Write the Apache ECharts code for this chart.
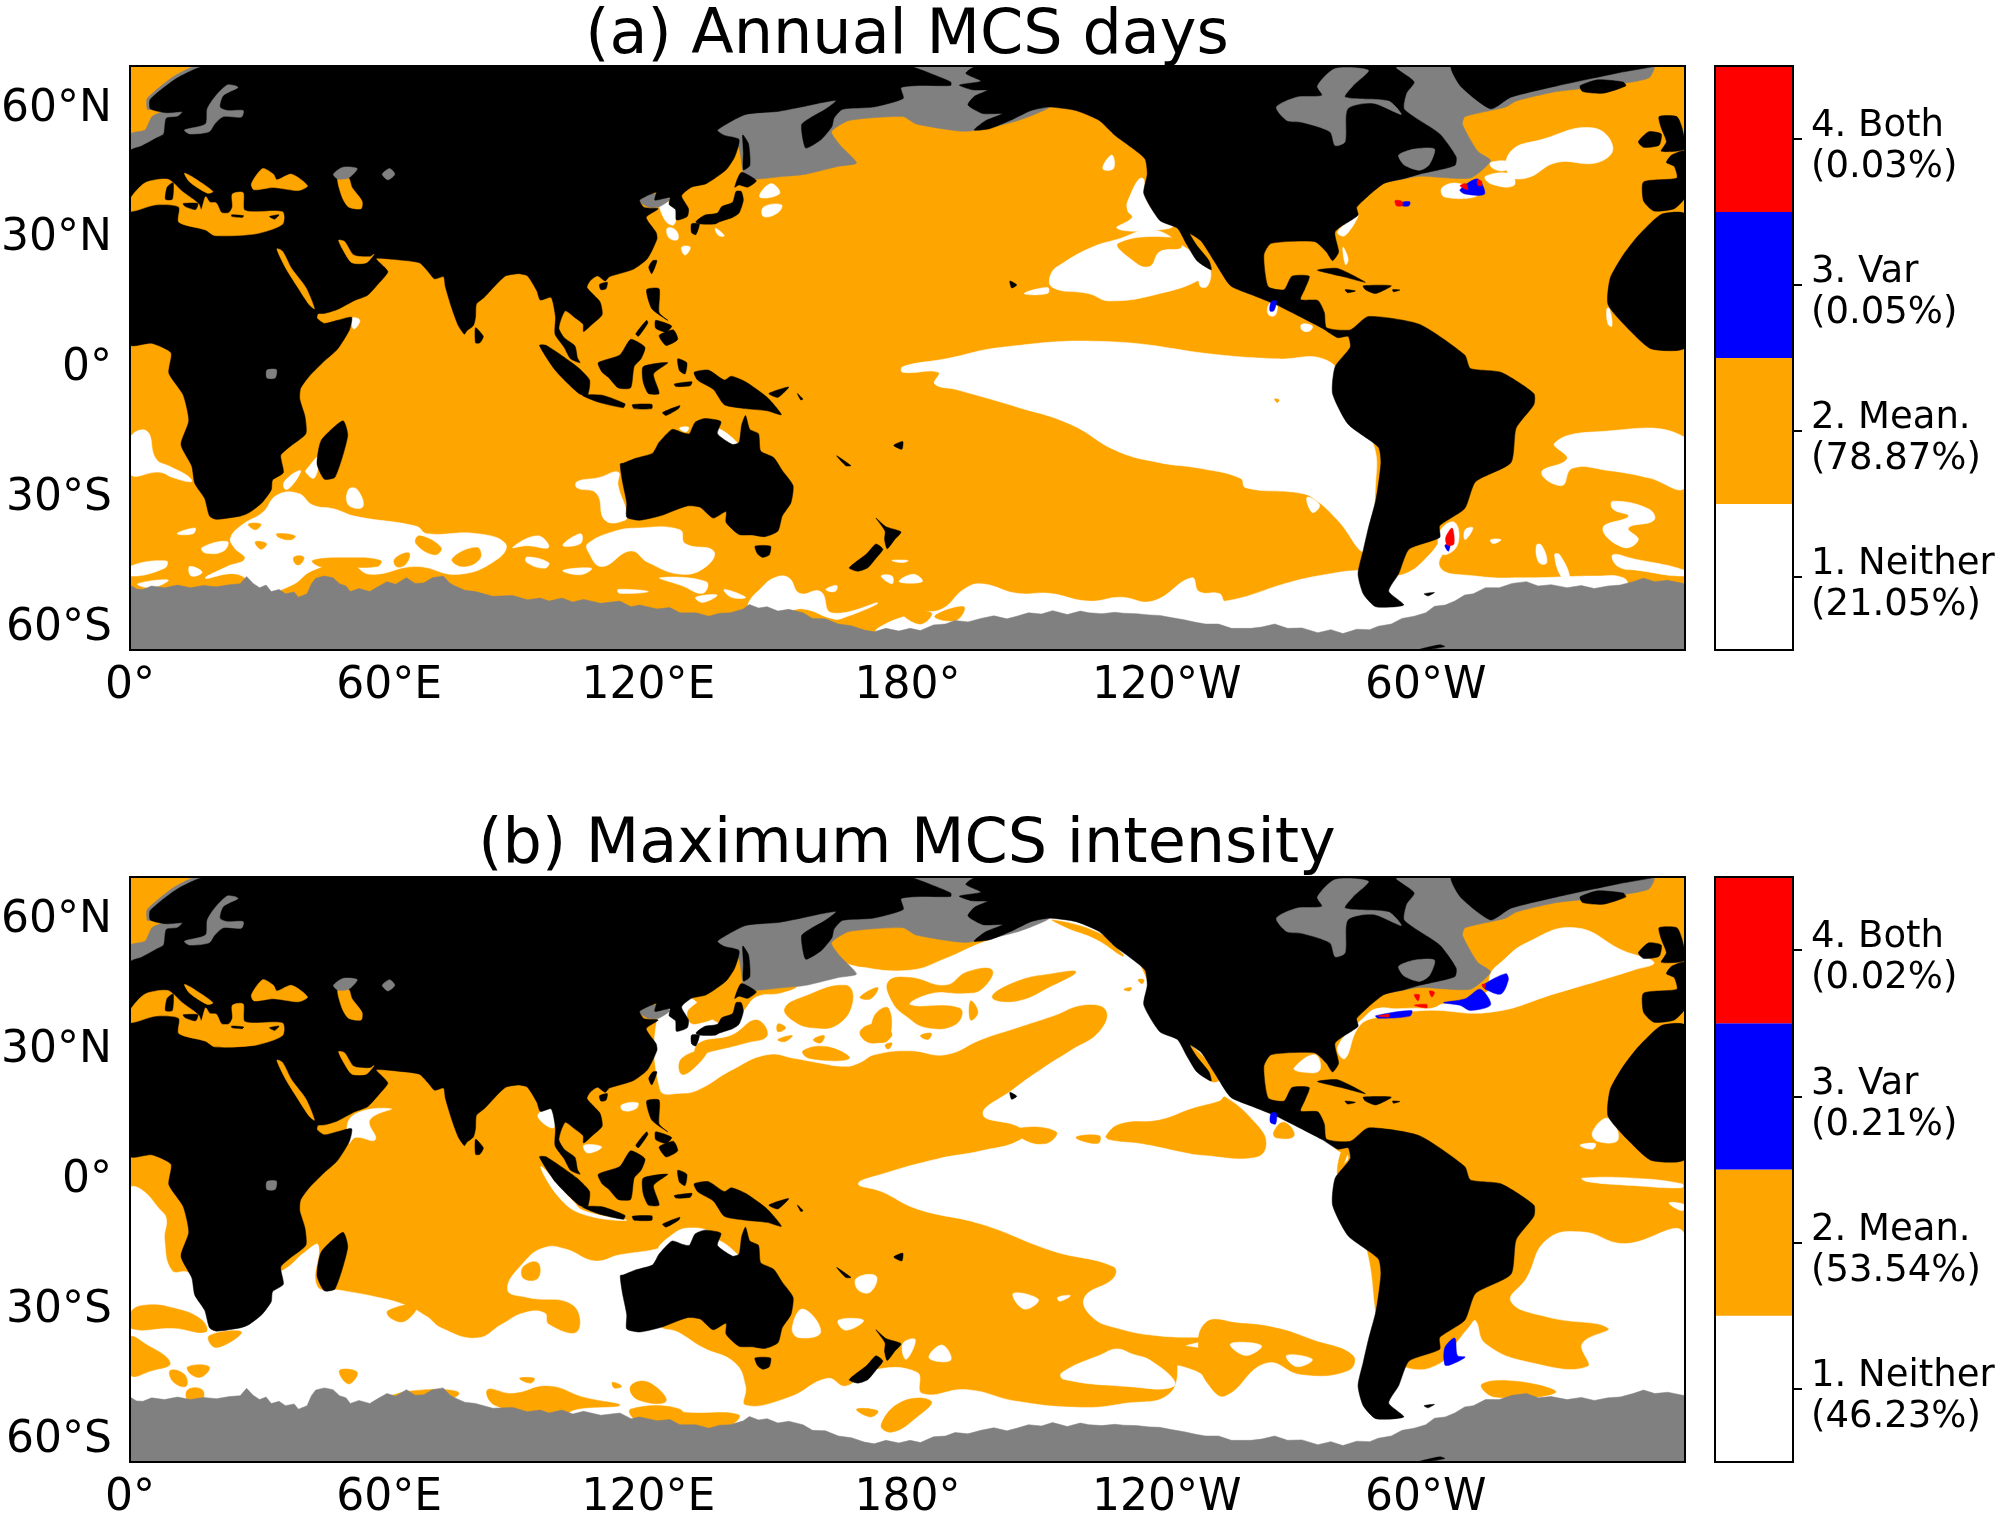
<!DOCTYPE html>
<html>
<head>
<meta charset="utf-8">
<title>MCS maps</title>
<script src="https://cdn.jsdelivr.net/npm/echarts@6/dist/echarts.min.js"></script>
<style>
html,body{margin:0;padding:0;background:#fff}
#main{width:2000px;height:1515px}
</style>
</head>
<body>
<div id="main"></div>
<script>
// all outlines are [lon (0-360), lat]
var lonTicks = [0, 60, 120, 180, 240, 300];
var latTicks = [-60, -30, 0, 30, 60];
var lonLabels = ['0°', '60°E', '120°E', '180°', '120°W', '60°W'];
var latLabels = ['60°S', '30°S', '0°', '30°N', '60°N'];
var titleA = '(a) Annual MCS days';
var titleB = '(b) Maximum MCS intensity';
var classNames = ['1. Neither', '2. Mean.', '3. Var', '4. Both'];
var classShareA = ['21.05%', '78.87%', '0.05%', '0.03%'];
var classShareB = ['46.23%', '53.54%', '0.21%', '0.02%'];
var classSteps = [1, 1, 1, 1];
var classTicks = [0.5, 1.5, 2.5, 3.5];

var oceanBox = [[[0,-65],[360,-65],[360,70],[0,70]]];

// land
var afroEurasia = [[17.5,70],[180,70],[186,68],[190,66.3],[190,65.5],[183,65.5],[178.5,65],[179,62.5],[172,60.5],[165,60],[163,58],[162.5,56],[160,53],[156.5,51],[155.8,53],[155.5,56.5],[157.5,58],[161,60],[163.5,62],[160,61.5],[155.3,60.5],[150,59.5],[142.5,58.8],[136,55.2],[137.5,54],[141,53],[140,49],[138,46],[133.4,42.8],[130,42],[127.7,40],[129.3,37],[129,35.2],[126.5,34.4],[126.3,36.8],[124.8,38],[125,39.6],[121.5,39],[121.8,40.8],[118,39],[119,37.3],[122.3,37],[119.5,35],[121.8,31.5],[122,30],[119.8,25.5],[116.5,23],[111,21.3],[110,20.3],[108.2,21.5],[106.5,20.3],[105.8,18.8],[108.8,15.5],[109.3,12.5],[107,10.3],[105,8.6],[104.9,10.3],[102.8,12],[100.8,13.4],[99.8,11.5],[99.3,9.3],[100.5,7.2],[103,5.3],[103.6,2.5],[104.2,1.4],[102,2.3],[100.5,5],[98.4,8],[98.5,12],[97.5,16.5],[95,15.9],[94.2,18],[92,21.5],[90,22],[87,21.5],[85,19.7],[82,16.5],[80.2,15],[80,12],[79.5,10],[78,8.8],[77.4,8],[76,10],[74.5,14],[73,19],[72.6,21.3],[70.5,20.8],[69,22.5],[67,24.5],[62,25.2],[57,25.5],[58.7,23.7],[59.7,22.4],[57.8,20],[55,17],[52,15.8],[48,13.7],[45,12.8],[43.5,12.7],[43.3,11.7],[45,10.5],[48,11.2],[51.3,11.9],[50.8,9],[48,4.5],[45,1.8],[41.5,-1.7],[39.5,-4.5],[39.3,-7],[40.5,-11],[40.7,-15],[37,-18],[34.9,-20],[35.5,-24],[33,-25.7],[32.7,-28],[30.5,-31],[27.5,-33.3],[25.7,-34],[20,-34.8],[18.4,-34],[17.3,-30],[15,-26.5],[14.3,-22.5],[11.8,-17.5],[13.6,-12],[12.3,-6],[9,-1],[9.5,3.7],[5,5.9],[0,5.6],[0,50.3],[2.7,51.5],[6.2,53.4],[7.8,54.3],[8.4,57.9],[11,58.3],[12.1,59.4],[8.4,59.2],[4.7,60.1],[4.7,62.3],[10.9,67.2]];
var americas = [[196,70],[193.5,68.3],[197,66.5],[192,65.6],[195,64.5],[198.5,64.4],[195.5,63],[194,61],[197.5,59],[202,59],[198,57.3],[195.4,55.2],[199,55.5],[204,57.5],[208.6,59.7],[212.8,60.5],[219,59.7],[224.4,57.4],[228,54],[231.8,51.2],[235,48.5],[235.5,45],[234.7,40.5],[238.4,34.3],[242.5,32.5],[244.5,29],[247,25],[250.3,22.9],[249.8,25],[247,28.5],[245.4,31.2],[248,29.5],[251.2,24.6],[254.8,19.2],[260,17],[265.4,14.8],[270,12.5],[276,9.4],[279.6,7.2],[282,7.5],[282.5,5],[279,0.5],[278.4,-5.7],[282,-12.8],[289,-18.1],[289.6,-21.7],[288.5,-30],[286.7,-36.8],[285.5,-42],[284.3,-47.4],[285.5,-52],[288.4,-55],[294.9,-54.6],[291.4,-51.4],[293.7,-47.4],[296.1,-41.7],[303.2,-39],[303.2,-36.3],[309,-32.3],[311.5,-26.1],[319.7,-21.7],[320.9,-13.7],[325,-8.3],[325,-5.7],[317.4,-0.8],[310.3,0.1],[309,3.2],[298.5,10.3],[286.7,12.1],[282.5,9],[277,9.5],[276.5,13],[275,15.8],[271,16],[272,18.5],[273,21.4],[269,21.4],[267.2,18.3],[263.5,19],[262.5,26.3],[264.2,29],[274.3,29.4],[277,27],[278.4,25],[279.8,27],[279,31.7],[284.3,35.5],[284,37.4],[290.2,42.8],[295,44],[298.5,45],[306.7,47],[307,49],[303.2,54.3],[295,60],[295.5,63.7],[297.3,66.3],[293.2,69.4],[293,70]];
var westAfrica = [[360,35.7],[354.5,35.7],[349.2,30.8],[345.7,26.3],[342.7,21],[342.2,14.8],[347.5,8.6],[352.2,4.6],[360,5]];
var iberiaFrance = [[356.9,49.4],[360,50.3],[360,39.7],[357.5,37],[352.8,36.5],[350.4,38.8],[350.4,43.2],[358.1,44.1],[357.5,46.8],[355.7,47.7]];
var australia = [[113.5,-22],[114,-26],[115,-31],[115,-34.3],[118,-35],[123,-33.9],[129,-31.7],[132,-32],[135,-34.5],[138,-33],[138,-35.5],[141,-38.3],[144,-38.4],[147,-38.8],[150,-37.5],[151,-34],[153,-31],[153.5,-27],[151,-23.5],[149,-20.5],[146,-19],[145.5,-15],[143.5,-14],[142.5,-10.8],[141.6,-13],[141,-17],[139.5,-17.5],[136,-15],[136.8,-12.2],[133,-11.5],[130.8,-12.4],[129.5,-15],[128,-14.8],[125.5,-14],[122.5,-17],[121,-19.5],[117,-20.7],[114.3,-21.8]];
var greenland = [[306,70],[308,65.4],[315,60.1],[319.7,62.8],[330.3,65.4],[345,68.5],[352.8,70]];
var islands = [
  [[144.7,-41],[148.3,-41],[148,-43],[146.5,-43.6],[145.3,-42.8]],
  [[166.5,-46],[170.5,-42.8],[172.7,-40.5],[174.3,-41.7],[172.7,-43.8],[170.8,-46],[168.5,-46.8]],
  [[172.7,-34.5],[175,-36.5],[178.5,-37.7],[177,-39.5],[175.3,-41.6],[174.7,-39.5],[174.8,-37.5]],
  [[131,34],[133,35.5],[136,36],[137,37.5],[139.5,38.5],[140.3,41],[141.5,41],[142,39],[141,36],[139.5,35],[136.5,34],[135.5,33.5],[132,33.5]],
  [[140,42],[141.5,45.4],[145,43.5],[143,42],[141,42.5]],
  [[130,33.5],[131.8,33.5],[131,31],[130,31.5]],
  [[142,54],[143.2,52],[143.5,47],[142,46],[142,50],[141.8,54]],
  [[121,25],[122,25],[120.8,22],[120.1,23.5]],
  [[108.7,19.5],[110.5,20],[110.2,18.5],[109,18.3]],
  [[80,9.5],[81.8,7.5],[81,6],[80,6]],
  [[49.3,-12],[50.4,-15.5],[47.5,-25],[45,-25.5],[43.3,-22],[44.3,-16.5]],
  [[94.8,5.4],[96.4,5.4],[103.5,0.5],[106.4,-2.6],[105.9,-6.1],[103.9,-5.7],[98.5,-0.4]],
  [[104.7,-6.1],[109.3,-6.1],[114.6,-8.1],[114.2,-9],[108.4,-7.7]],
  [[108.4,1.4],[113.4,3.2],[115.9,6.8],[119.2,5],[118.3,2.3],[116.7,0.5],[115.9,-4.4],[113,-4.4],[110.9,-2.1],[109.3,-0.8]],
  [[118.8,0.5],[124.5,1.4],[121.2,-1.2],[122.5,-5.7],[120,-5.7],[118.8,-3]],
  [[119.6,18.3],[122.5,18.5],[122.5,13],[124.5,11.2],[120.8,13.9]],
  [[121.7,11.2],[125.4,9.9],[124.1,8.5],[121.7,9.4]],
  [[122.5,7.7],[125.8,9],[126.8,6.8],[124.1,5.4]],
  [[117.1,8.1],[119.6,11.2],[119.9,10.6],[117.7,7.5]],
  [[116.3,-8.3],[120.8,-8.2],[120.8,-9.2],[116.7,-9.2]],
  [[123.3,-10.1],[127.3,-8.5],[127,-9.2],[124.1,-10.8]],
  [[126.8,2.3],[128.9,1.4],[128.5,-1.2],[127.2,-0.4]],
  [[126,-3.5],[130.1,-3],[129.7,-3.9],[126.4,-4.1]],
  [[130.6,-0.8],[133.9,-0.3],[137.6,-2.6],[139.2,-1.7],[142.5,-3],[147.5,-6.6],[150.8,-10.6],[147.5,-9.7],[142.5,-9.2],[137.6,-8.3],[135.1,-4.8],[131.4,-2.6]],
  [[147.9,-5.7],[152.5,-4.2],[150,-6.6]],
  [[154.5,-5.7],[155.8,-7],[155.3,-7.2]],
  [[176.8,-17.7],[178.9,-16.8],[178.7,-18.6]],
  [[163.6,-20.1],[166.9,-22.4],[165.7,-22.4]],
  [[203.7,20.3],[205.3,19.4],[204.1,18.7]],
  [[274.9,22.8],[279.6,23.2],[286,20],[281.3,21.2]],
  [[285.5,19.2],[292,19.2],[288.4,17.4],[286,18.3]],
  [[281.3,18.3],[283.7,18],[281.9,17.6]],
  [[292.3,18.3],[294,18.2],[292.5,17.8]],
  [[354,58.3],[358.1,58.3],[359.3,55.7],[360,50.8],[354.5,50.3],[355.7,52.5],[354.5,55.7]],
  [[349.2,52.5],[351.6,54.8],[354.5,54.3],[354,51.7],[350.4,51.2]],
  [[335.7,65.4],[339.8,66.8],[345.7,66.3],[346.3,65.4],[341,63.7],[336.3,64.1]],
  [[298,-65],[303.2,-63.8],[304.4,-64.2],[300,-65]],
  [[299.6,-52],[302,-51.7],[300.5,-52.5]]
];
var medIslands = [
  [[12.3,38.2],[15.7,38.2],[15.2,36.8],[12.8,37.5]],
  [[8.6,42],[10,43],[9.8,39.2],[8.2,39.2]],
  [[23.5,35.6],[26.3,35.4],[26,35],[23.6,35.2]],
  [[32.3,35.2],[34.5,35.6],[33.5,34.6]]
];

// seas that sit on top of the land
var inlandMean = [
  [[0,39.2],[3.5,43],[8.8,43.8],[12.1,41],[14.6,39.2],[16,38],[16.5,36.8],[17.5,39.8],[18.5,38.5],[20,38.3],[21.2,36.1],[22.9,36.1],[23.7,37.4],[23.7,40.4],[26.2,40.7],[26.6,36.6],[35.3,36.3],[35.3,33.4],[29.1,31.2],[19.6,30.8],[17.5,32.1],[11.3,33.9],[11.3,37.4],[6,37.9],[0,36.4]],
  [[12.6,45.2],[14.2,44.5],[19.2,41],[17.9,40.6],[13.8,43.2]],
  [[28.1,42.8],[30.7,46.3],[33.2,45],[34,43.7],[37.4,45],[41.1,42.3],[39,41.2],[33.2,41.9],[28.7,41.4]],
  [[48.1,44.1],[50.6,44.1],[51.4,41.9],[53.7,38.8],[53.5,37],[50.6,37.4],[49.1,39.7]],
  [[34,27.7],[35.3,27.2],[37.4,23.2],[40.7,18.8],[42.7,13.9],[41.5,14.8],[38.6,19.2],[36.1,23.2]],
  [[48.3,29.7],[49.7,29.4],[51.8,26.3],[55.5,25.9],[56.5,26.5],[54.7,24.5],[51.4,24.5],[49.7,26.8]]
];
var inlandGrey = [
  [[47.1,45],[49.3,46.6],[52.6,46.3],[50.6,44.1],[48.1,43.9]],
  [[58.4,45],[60.1,46.3],[61.3,45],[59.7,43.7]],
  [[24.5,65.4],[22.5,65.6],[19.6,62.8],[17.9,60.1],[17.5,56.6],[12.6,55.2],[13.8,54.3],[18.3,54.8],[19.6,56.6],[21.6,58.3],[25.8,58.2],[26.2,59.7],[22.5,59.7],[20.8,60.5],[21.6,63.2],[25,65]],
  [[31.7,-0.3],[33.9,-0.2],[33.6,-2.1],[31.7,-2.1]],
  [[265.4,60.5],[270.1,62.8],[276,63.2],[274.9,65.4],[279,69.4],[286.7,69],[283.1,65.4],[281.3,62.8],[291.4,61.9],[294.3,58.8],[287.8,61.4],[281.9,60.1],[281.3,52.5],[279,51.6],[277.8,54.8],[271.3,57],[267.8,57.4]],
  [[293.7,49.4],[297.3,50.8],[302,50.8],[300.8,47.2],[298.5,45.9],[294.9,47.2]]
];

// no-data ocean under the land layer
var iceEdge = [[0,-50],[1.5,-50.9],[3,-51],[5,-50.2],[8,-50.6],[11,-50],[14,-50.6],[17,-50.1],[20,-50.4],[23,-49.9],[25.5,-49.7],[27,-48],[28.5,-49.6],[30,-50.6],[31.5,-50],[32.7,-51.5],[34.5,-51],[36,-52],[38,-51.6],[39,-52.8],[41,-52],[42,-49.7],[43,-48.4],[45,-47.9],[47,-48.3],[48.5,-49.7],[50,-50.2],[51,-51.5],[53,-50.8],[55.5,-51.5],[57.5,-50.3],[59.5,-49.2],[61.5,-49.8],[64,-48.3],[66,-49.6],[68,-49.5],[70,-48.3],[72.5,-47.9],[74,-49.5],[75,-50.1],[77.5,-51.2],[80,-51.5],[84,-52.6],[88.6,-52.4],[92,-53.4],[95,-53],[97,-53.7],[100,-53],[102.5,-53.9],[105,-53.3],[109,-54.2],[113.4,-53.7],[116,-55],[118,-54.6],[122,-55.5],[125,-55.2],[127.3,-56.4],[131,-56.4],[134,-57.2],[136.5,-56.5],[139,-56.4],[142,-55.5],[143.4,-54.5],[145.5,-55.3],[147.5,-55],[150,-56],[152.5,-55.6],[155.8,-56.4],[158,-57.7],[161,-57.8],[164,-59],[167,-59.4],[170,-60.4],[172.3,-60.8],[175,-60],[178,-60.6],[180.6,-60],[183,-60.5],[186,-59.2],[188.8,-59],[191,-58.2],[194,-58.5],[197,-57.7],[200,-57.1],[203,-57.8],[205.3,-57.2],[208,-56.4],[211,-56.7],[213.6,-55.9],[217,-56.8],[220,-56],[222,-56.4],[225,-56.6],[228,-56.3],[230,-56.5],[233,-56.6],[236,-56.9],[238.4,-57],[241,-57.5],[244,-58],[246.7,-58.6],[249,-59],[252,-59],[255,-60],[259.5,-60],[262,-59.7],[265,-59],[268,-60],[271.3,-59.9],[275,-61],[278,-60.3],[280.8,-61.2],[284,-60.2],[287,-60.3],[289,-59.5],[292,-59],[294.5,-57.7],[297.3,-57.2],[300,-56.4],[302,-54.9],[304.5,-54.6],[306.7,-53.7],[309,-52.3],[311,-52],[313.8,-50.6],[317,-50.6],[320,-49.6],[323.3,-49.2],[326,-50.2],[329,-49.9],[332.7,-50.6],[336,-50.1],[339,-50.8],[342.2,-50.2],[345,-50],[348,-49.2],[350.4,-48.4],[353,-49.2],[356,-48.9],[360,-49.7],[360,-65],[0,-65]];
var greySeas = [
  [[136,55.2],[142.5,60],[180,70],[197,70],[205,62],[212.8,60.5],[205.3,57.3],[193.5,54.9],[182,56.6],[178.9,58.3],[166.5,57.4],[162.4,54.8],[164.4,51.7],[168.2,47.6],[164,46.8],[156.5,45],[151.6,44.5],[142.5,44.1],[140.9,51.2]],
  [[293.2,70],[352.8,70],[351.6,67.2],[342.2,65.4],[330.3,64.1],[320.9,61.9],[318.5,60.5],[309.1,58.3],[308.5,56.5],[312,50.3],[315,48.1],[310.3,44.1],[298.5,44.5],[290.2,43.2],[286.7,45],[283.1,62.8]],
  [[0,50.3],[0,54.3],[3.5,55.2],[5.1,58.3],[8.4,59.7],[12.1,59.7],[14.2,55.7],[8.4,53.4],[5.1,52.5],[2.6,51.2]],
  [[4,60],[4,62.5],[10,67.5],[15,70],[18,70],[11,67],[5,62],[5,60]],
  [[117.9,38.8],[120.8,40.5],[125,39.2],[122.4,37.4],[120,37.4]]
];

// panel a
var annualNeither = [
  [[0,-16],[3.9,-14.4],[6,-20.8],[9.3,-22.6],[13.4,-24.8],[14.2,-26.1],[10.1,-25.2],[6.8,-23.9],[0,-24.3]],
  [[23.3,-39],[26.2,-35.9],[30.7,-33.2],[34,-29.2],[39,-28.8],[42.3,-31.5],[47.3,-32.4],[52.2,-34.1],[66.3,-36.4],[68.7,-38.1],[80.3,-38.1],[86.9,-40.4],[85.2,-43.9],[76.2,-47.5],[66.2,-45.7],[55.5,-47.5],[50.6,-44.8],[42.3,-46.6],[37.3,-50.1],[30.7,-51.5],[24.9,-47.5],[17.5,-48.4],[22.5,-45.7],[26.6,-43.9],[24.1,-41.3]],
  [[16.7,-41.3],[22.5,-39.9],[21.7,-42.1],[17.5,-42.6]],
  [[0,-45.7],[8.4,-44.4],[8,-46.1],[0,-47.9]],
  [[13.8,-45.7],[16.7,-47],[14.2,-47.9]],
  [[1.8,-49.7],[8.8,-48.8],[5.1,-50.6]],
  [[10.9,-38.1],[15,-36.8],[14.6,-38.1]],
  [[35.7,-26.1],[39.4,-23.5],[38.2,-26.1],[36.1,-27.9]],
  [[41.1,-23],[43.6,-20.4],[42.7,-25.2],[40.7,-23.9]],
  [[50.6,-27.9],[52.6,-27.9],[53.9,-31.9],[50.6,-31.5]],
  [[88.6,-41.3],[94.4,-38.6],[96.9,-41.3],[91.9,-40.9]],
  [[100.2,-40.8],[104.3,-38.1],[104.3,-40.4]],
  [[91.9,-43.5],[96.9,-44.8],[96,-46.1],[91.9,-44.8]],
  [[100.2,-46.6],[106.8,-46.1],[104.3,-47.6]],
  [[113,-51],[120,-51.5],[113.4,-51.9]],
  [[122.7,-48.3],[133.4,-49.2],[132.6,-51.9],[127.7,-50.1]],
  [[103.5,-26.1],[108.4,-25.2],[113,-23.9],[113,-27],[115,-33.2],[114.6,-35],[110,-35],[108,-28.8],[103.5,-27.5]],
  [[106,-40.4],[111.7,-37.7],[117.5,-36.8],[127.3,-37.2],[128.5,-40.4],[135.1,-42.1],[133.4,-45.7],[127.7,-47.5],[120,-44.8],[115.9,-42.1],[109.2,-45.7],[106,-42.1]],
  [[143.4,-53.7],[145.8,-51],[149.2,-48.3],[152.5,-48.3],[155,-51.9],[159.9,-51.5],[162.4,-56.4],[173.1,-54.1],[164.8,-57.7],[162.4,-57.7],[155.8,-55.5],[150.8,-56.4],[143.4,-55]],
  [[173.9,-47.9],[176.4,-47.9],[176.4,-49.7]],
  [[178.1,-49.2],[181.4,-47.5],[183.4,-49.2]],
  [[176.4,-44.3],[180.1,-44.3],[178.9,-44.8]],
  [[161.1,-51],[163.6,-50.1],[163.2,-51.5]],
  [[137.6,-51],[142.5,-52.8],[139.2,-52.8]],
  [[131,-52.8],[135.9,-52.3],[132.6,-54]],
  [[173.1,-60],[182.2,-56.4],[188,-55.5],[193,-51],[197.1,-49.7],[205.3,-51.9],[212.8,-51.9],[221.9,-53.7],[229.3,-52.8],[236.8,-53.7],[245.8,-48.3],[247.5,-51.5],[252.3,-52],[253.6,-53.7],[269,-49.2],[277.2,-47.5],[284.3,-46.6],[290,-47],[294.9,-47.5],[300.8,-43],[305.6,-36.8],[307,-38],[303.2,-45.7],[311.5,-47.9],[323.3,-48.3],[339.8,-47.9],[345.7,-48.3],[346.9,-50.6],[346,-53],[346,-62],[173,-62]],
  [[178.9,0.5],[188.8,2.3],[202,5],[226,6.3],[252.3,3.2],[265.4,2.3],[277.2,1.9],[282,-5.7],[287.8,-17.2],[288.4,-26.1],[286,-42],[279.6,-35],[274.9,-30.6],[271.3,-28.8],[258.3,-27.5],[257.1,-25.3],[247.7,-23],[238.4,-21.7],[228.5,-19],[217.7,-12.8],[205.3,-8.8],[191.3,-4.8],[186.3,-3.5],[187.2,-0.8],[178.9,-0.8]],
  [[213.2,21.9],[216.1,24.5],[222.7,28.1],[228.5,29.9],[236.8,32.1],[244.2,28.1],[249.6,23.7],[248.3,21],[238.4,17.4],[226.8,15.7],[221.9,17.4],[213.6,18.8]],
  [[231,38.8],[234.3,44.1],[235.9,37.9],[241.7,33.4],[236.8,32],[228.5,32.5],[232,35],[231,36.5]],
  [[207,17.4],[212.4,18.8],[212.4,17.4]],
  [[225.2,46.3],[227.3,49.4],[227.7,46.3]],
  [[146.7,37.4],[150.8,37.9],[150,36.1],[146.7,35.2]],
  [[145.8,39.7],[148.3,42.8],[150.4,40.5]],
  [[122.7,38.8],[126,37.4],[126,33.4],[123.9,34.3]],
  [[124.4,32.5],[126.4,32],[126.8,29.9],[124.8,30.3]],
  [[127.7,28.1],[129.7,28.1],[128.5,26.3]],
  [[135.5,32.5],[137.6,30.8],[136.3,30.8]],
  [[158.2,50.3],[159.9,48.5],[158.2,47.7]],
  [[135.9,-13.7],[140.7,-17.2],[139.2,-17.4],[136.1,-15.9]],
  [[127.2,-13.7],[129.3,-13.5],[128.7,-14.6]],
  [[51.4,11.7],[53.2,11.2],[51.8,9.2]],
  [[329.8,-17.2],[338.6,-14.6],[360,-15.9],[360,-27.5],[351.6,-25.2],[342.2,-23.5],[333.9,-23],[331.5,-27],[326.8,-23.9],[332.7,-20.8]],
  [[343.3,-30.6],[351.6,-32.4],[352.8,-35],[346.9,-36.8],[349.2,-39.5],[345.7,-41.3],[341,-36.8],[346.9,-34.1],[343.3,-32.4]],
  [[343.3,-43],[348,-43.9],[360,-46.6],[360,-47.9],[349.2,-46.6],[344.5,-45.7]],
  [[329.8,-43],[331,-43],[333.3,-48.3],[331.5,-48.3]],
  [[325.6,-40.8],[326.8,-40.8],[328,-44.8],[326.2,-44.8]],
  [[309.1,-37.2],[310.9,-36.8],[309.1,-39.5]],
  [[315,-39.5],[317.4,-39.5],[315.6,-40.4]],
  [[272.5,-29.7],[275.4,-31.5],[273.7,-33.2]],
  [[319.7,50.3],[326.8,53],[338.6,55.7],[343.3,51.2],[339.8,47.7],[330.3,47.7],[323.3,44.1],[319.1,45]],
  [[315,47.7],[319.7,47.7],[318.5,45.9],[315.6,46.3]],
  [[313.8,44.5],[319.7,45],[320.3,42.3],[315,42.8]],
  [[303.8,41.9],[307.9,42.8],[312,40.1],[304.4,39.7]],
  [[279.6,31.7],[284.3,35.7],[281.3,30.8]],
  [[280.8,28.1],[282,25.4],[281.4,24.1]],
  [[247.7,24.1],[250,23.2],[249.5,19.2],[247.7,19.2]],
  [[263.6,14.8],[265.4,15.7],[265.2,12.5],[263.6,12.5]],
  [[271.3,10.3],[273.7,9.9],[273,8.7],[271.3,9]],
  [[341.9,13.9],[342.5,13.9],[343.1,9.9],[342.2,10.3]],
  [[303.2,-37.7],[306.7,-35.5],[307.3,-40.8],[303.8,-42.8]]
];
var annualMean = [
  [[34,-38.1],[38.2,-38.6],[37.3,-39.5],[34.5,-39]],
  [[29,-40],[31.6,-40.4],[30.3,-41.7]],
  [[38,-43.5],[40.2,-43.5],[39.4,-45.2],[38.2,-45]],
  [[42.3,-44.3],[50.6,-43.7],[58,-44.3],[57.2,-45.7],[48,-45.7],[44,-45.7]],
  [[61.3,-43.9],[64.6,-42.6],[63.8,-45.2],[61.7,-45.7]],
  [[27.4,-35.9],[30.3,-35.9],[29,-37.2]],
  [[67,-38.6],[72,-41.3],[70.5,-43],[66.2,-40.4]],
  [[74.6,-43.9],[80.3,-41.3],[81,-43.9],[77,-45.7]],
  [[186.3,-57.2],[193,-55],[191.3,-58.1]],
  [[178.9,-56.4],[185.5,-56.4],[183,-59]],
  [[228.9,29],[241.7,30.3],[243.4,28.1],[238.4,27.2],[235.9,23.7],[231.8,25.4]],
  [[265,-7],[266,-7.2],[265.6,-7.8]]
];
var annualVar = [
  [[307.9,41.4],[312,43.9],[313.6,40.4],[309.1,40.4]],
  [[264.2,15.5],[265.4,15.7],[264.8,13.4],[263.9,13.4]],
  [[304.4,-40.8],[305.6,-40.5],[305.2,-42.2]],
  [[294.5,38.5],[296.3,38.6],[296.1,37.7],[294.5,37.7]]
];
var annualBoth = [
  [[292.9,38.9],[294.5,38.7],[294.5,37.7],[293.2,37.7]],
  [[304.6,-39],[306.1,-36.8],[306.5,-40.5],[305,-40.8]],
  [[307.9,42.3],[309.3,42.8],[309.7,41.4]],
  [[312,43.7],[312.9,43.4],[312.9,42.3],[312,42.5]]
];

// panel b
var intensityNeither = [
  [[0,-2],[2.6,-2.1],[6.8,-6.6],[8.4,-8.8],[8,-13.7],[9.7,-20.8],[13.4,-21.2],[22.5,-26],[35.3,-20.8],[40.7,-16.4],[43.6,-15],[43.3,-24.4],[48.9,-25.4],[55.5,-26.6],[63.8,-28.8],[68.8,-31.5],[72.1,-34.1],[80.3,-36.4],[86.1,-33.2],[91.1,-30.6],[96,-30.6],[96.9,-33.2],[103.5,-35],[102.6,-28.8],[91.9,-27],[87.4,-25.2],[91.1,-19],[96,-15.5],[101,-15.9],[107.6,-18.6],[113.4,-17.2],[121.7,-15.9],[127.3,-14.1],[125,-25],[122.7,-33.3],[126.8,-35],[132.6,-38.6],[140,-42.1],[142.5,-47.5],[142.5,-51.9],[152.5,-50.1],[161.5,-45.7],[165.7,-47.5],[171.5,-43.9],[182.2,-44.3],[183.4,-49.2],[193.8,-48.3],[205.3,-51],[220.2,-52.4],[230.1,-51.5],[240.9,-49],[245,-38],[285,-38],[296.1,-43.4],[303.2,-42.3],[306.7,-38],[310.3,-33.5],[311.5,-32.4],[313.8,-37.7],[324.4,-42.1],[337.4,-43],[336.2,-37.7],[342.2,-34.1],[328,-31.5],[319.7,-27.9],[323.3,-22.6],[328,-13.7],[336.2,-11.9],[345.7,-14.6],[360,-12.8],[360,-62],[0,-62]],
  [[122.7,21],[127.7,20.1],[131.8,21],[139.2,25.4],[147.5,29],[154.1,28.1],[159,27.2],[165.7,26.3],[169,27.2],[172.3,29],[180.6,29.9],[188.8,29],[197.1,32.5],[205.3,35.2],[213.6,37.9],[221,40.5],[226,39.2],[224.4,34.3],[217.7,29.9],[212,26.3],[204.5,21],[197.5,15.2],[206.2,12.1],[206.2,9.4],[197.1,6.8],[187.2,5],[174,1.4],[168.6,-0.8],[174,-2.6],[182.2,-6.6],[197.1,-10.1],[213.6,-16.3],[227.7,-19.9],[227.7,-22.6],[221,-27],[222.7,-31.5],[228.5,-34.1],[238.4,-35.9],[252.3,-36.4],[285.5,-39.5],[287.8,-26],[283,-5],[280,2],[282,5.4],[279.6,6.8],[276,10],[266,15],[255,20],[252,25],[247,31],[240,36],[236,45],[232,52],[224,58],[213,61],[209.5,59.2],[197.1,54.8],[188.8,51.2],[180.6,48.5],[168.2,49.4],[162.4,51.2],[159.9,50.3],[155,45],[150.8,43.2],[145,42.3],[141.7,38.8],[137,36],[130,42],[128,42],[122.7,40]],
  [[215.7,-44.4],[224.4,-40.4],[229.3,-39],[238.4,-43],[241.7,-47.5],[230.1,-47.5],[216.1,-45.9]],
  [[168.2,-22.6],[172.7,-22.1],[171.5,-25.7],[168.6,-25.3]],
  [[204.5,-26.1],[210.3,-27.5],[207,-29.7]],
  [[214.8,-27],[217.7,-26.6],[215.3,-27.9]],
  [[164,-32.3],[169.8,-32.3],[165.7,-34.6]],
  [[153.3,-34.1],[155.8,-29.7],[159.9,-35],[154.9,-36.3]],
  [[178.9,-37.7],[181.8,-36.8],[179.7,-41.3]],
  [[134.3,-44.3],[135.1,-44.3],[134.5,-45]],
  [[51.4,14.8],[60.5,16.5],[55.5,13.9],[56.8,9.4],[52.2,9.9],[50.6,8.5]],
  [[94.4,14.8],[97.3,16.5],[98.1,12.1]],
  [[95.2,3.2],[102.6,-4.8],[105.1,-7],[115,-9.2],[105.1,-7.9],[99.3,-3.9]],
  [[113.8,17.4],[117.5,17.9],[117.1,16.5],[114.2,16.1]],
  [[105.1,8.1],[109.2,7.7],[106,6.3]],
  [[122.7,-15.9],[125.2,-12.8],[129.3,-11],[135.1,-12.4],[135.9,-15.9]],
  [[135.9,-13.7],[140.7,-17.2],[139.2,-17.4],[136.1,-15.9]],
  [[336.2,0.5],[348,0.5],[359.3,-0.8],[359.3,-1.7],[348,-1.2],[337.4,-0.3]],
  [[356.3,-5.2],[360,-5.7],[359.3,-7]],
  [[338.6,11.2],[342.2,14.3],[344.5,9.4],[339.8,9]],
  [[335.7,8.1],[339.2,8.5],[338.6,7.2]],
  [[269.5,25.9],[274.3,29],[275.4,25.4],[271.3,25]],
  [[317.4,50.3],[323.3,54.8],[334.5,58.3],[345.7,53],[352.8,50.3],[348,48.5],[330.3,43.2],[315,38.8],[299.6,39.2],[287.8,37.4],[284.3,35.2],[281.3,28.1],[279.6,30.8],[285.5,37.4],[289,39.7],[303.2,40.6],[313.8,43.2],[315,47.7]]
];
var intensityMean = [
  [[226,10.3],[229.3,13],[238.4,13.9],[245.8,16.5],[252.3,18.3],[253.6,19.2],[260.7,13],[263,8.5],[260.7,5.4],[247.7,5.9],[245,6.3],[234.3,8.5],[226.8,9.4]],
  [[206.2,12.1],[214.4,11.2],[212,8.5],[206.2,9.9]],
  [[219,9.9],[224.4,10.3],[224,8.5]],
  [[151.6,39.7],[155.8,42.3],[165.7,45],[167.3,41.4],[164,36.1],[158.2,35.2],[153.3,37]],
  [[175.6,45.9],[180.6,46.8],[188.8,45],[193.8,48.1],[199.6,48.5],[197.1,44.1],[193,43.2],[185.5,43.2],[180.6,40.5],[192.1,39.7],[191.3,36.1],[184.7,35.2],[179.7,37.9],[176.4,41.4]],
  [[199.6,42.3],[205.3,45.9],[213.6,47.7],[219,48.1],[213.6,45],[205.3,41.4]],
  [[194.6,41.4],[196.3,38.8],[194.6,37]],
  [[164.8,53],[166.5,57],[178.9,57.9],[193,55.2],[188.8,53],[180.6,51.2],[169,49.4],[166.5,51.2]],
  [[131.8,31.7],[139.2,33.4],[145,37],[147.5,33.4],[142.5,31.7],[135.1,29.9],[131,29]],
  [[127.7,28.1],[133.4,29.9],[131,26.3],[127.7,24.5]],
  [[150,36.1],[151.8,35.2],[150,34.3]],
  [[150,32.5],[153.3,33.4],[151.6,32]],
  [[155.8,29.9],[161.5,30.8],[166.5,28.1],[157.4,28.1]],
  [[172.3,37.9],[175.6,39.7],[175.6,32.5],[172.3,32.5]],
  [[169,42.3],[173.1,44.5],[171.5,41.9]],
  [[158.2,32.5],[160.7,33.4],[159.9,31.7]],
  [[174.8,31.2],[176.4,31.7],[175.6,30.3]],
  [[169,34.3],[173.1,36.1],[176.4,33.4],[171.5,31.7]],
  [[183,33.4],[185.5,33.9],[184.7,32.5]],
  [[230.1,44.1],[231.8,44.5],[231.4,43.7]],
  [[233.4,46.3],[234.7,46.3],[234.3,45.4]],
  [[213.6,60.1],[224.4,57],[230,52],[229.8,51.7],[223.6,55.7],[216.9,58.3]],
  [[228.5,-36],[238.4,-37.7],[246.7,-38.6],[252.3,-40.4],[252.3,-47.5],[246.7,-43.9],[236.8,-41.3],[229.3,-38.6]],
  [[248.9,-33],[257.1,-33],[265.4,-34.1],[273.7,-36.8],[283.1,-40.4],[282,-43.9],[271.3,-44.8],[263,-42.1],[253.6,-49.7],[250,-47.5],[247.7,-42.1]],
  [[173.9,-56.4],[178.9,-51],[185.5,-51],[182.2,-54.6],[176.4,-58.1]],
  [[168.2,-52.8],[173.1,-53.2],[171.5,-54.6]],
  [[122.7,-53.7],[131,-53.7],[140.9,-54.1],[139.2,-56.4],[131,-58.1],[122.7,-56.4]],
  [[0,-30.6],[3.5,-28.8],[10.9,-29.7],[16.7,-32.3],[17.5,-35],[10.1,-34.1],[0,-34.1]],
  [[0,-36.3],[3.5,-37.7],[9.3,-42.1],[5.1,-43.9],[0,-44.8]],
  [[9.3,-43.9],[12.6,-44.8],[13,-47.5],[10.1,-46.6]],
  [[13.4,-43],[18.3,-43],[16.7,-45.3],[14.2,-44.8]],
  [[18.3,-35.9],[25.8,-35],[20,-38.6]],
  [[48.5,-43.9],[52.6,-44.3],[50.6,-47]],
  [[13.4,-48.3],[16.7,-48.3],[16.7,-50.6],[13.4,-50.6]],
  [[59.7,-30.1],[66.3,-28.8],[63.8,-32.4],[60.5,-31.9]],
  [[91.1,-19.9],[94.4,-19],[94.4,-22.6],[91.1,-22.6]],
  [[90.2,-45.7],[93.6,-45.7],[92.7,-46.8]],
  [[115.9,-47.5],[120,-46.6],[124.1,-51],[117.5,-50.6]],
  [[82.8,-48.3],[88.6,-49.2],[96.9,-47.5],[105.1,-50.1],[113.4,-51.9],[103.5,-52.8],[98.5,-54.6],[84.5,-51.9]],
  [[59.7,-50.1],[68.8,-48.3],[76.2,-49.2],[67.9,-52.4],[62.1,-51.9]],
  [[115.9,-52.8],[127.3,-52.8],[127.3,-56.4],[117.5,-55.5]],
  [[111.7,-46.6],[113.8,-47.5],[112.1,-47.9]],
  [[129.7,39.7],[139.2,45],[140.5,42.8],[137.6,38.8],[131,36.1],[129.3,37]],
  [[290.2,43.2],[304.4,44.5],[303.2,40.6],[297.3,39.8],[289,40.5]],
  [[282,6.8],[279.6,1.4],[280.5,6.8]],
  [[264.8,11.2],[267.2,13.4],[269.5,10.3],[265.4,9.8]],
  [[245.4,31.2],[252.3,23.7],[250.4,22.8],[246.7,27.2]],
  [[313,-47],[322,-46.5],[330,-49],[316,-50]]
];
var intensityHoles = [
  [[254.8,-37.7],[261.9,-38.1],[258.3,-40.4]],
  [[267.8,-40.4],[273.7,-41.3],[270.1,-43]],
  [[185,-41],[188,-38],[190,-41.5]]
];
var intensityVar = [
  [[288.4,38],[296.7,39.2],[296.3,37.9],[289,37.4]],
  [[304.1,41],[309.1,41.9],[312.6,44.1],[315,40.5],[310.3,39.2],[307.9,40.4]],
  [[313.2,45],[318.5,47.7],[319.1,46.3],[317.4,43],[313.8,44.1]],
  [[264.2,15.5],[265.4,15.5],[265.2,13],[264,13.4]],
  [[304.4,-38.6],[306.7,-36.4],[307.3,-40.4],[309.1,-40.8],[305.6,-42.6],[304.4,-42.6]]
];
var intensityBoth = [
  [[297.3,42.8],[298.5,42.8],[298.2,41.4]],
  [[300.8,43.7],[302,43.4],[301.4,42.3]],
  [[297.3,40.4],[300.2,40.6],[300.2,39.8]],
  [[289,37.9],[291.4,38.3],[291.4,37.7]],
  [[313,45.2],[313.8,45.2],[313.6,44.3]]
];

var ORANGE = '#ffa500', GREY = '#808080', BLUE = '#0000ff', RED = '#ff0000';
var TEXT_FONT = 'DejaVu Sans';
var chart = echarts.init(document.getElementById('main'), null, {renderer: 'canvas'});

// one custom series for one colour layer of one map
function layer(panel, polys, color, smooth) {
  return {
    type: 'custom',
    coordinateSystem: 'cartesian2d',
    xAxisIndex: panel,
    yAxisIndex: panel,
    silent: true,
    clip: true,
    data: polys.map(function (p, i) { return [p[0][0], p[0][1], i]; }),
    renderItem: function (params, api) {
      var poly = polys[api.value(2)];
      return {
        type: 'polygon',
        shape: {points: poly.map(function (c) { return api.coord(c); }), smooth: smooth || 0},
        style: {fill: color, stroke: color, lineWidth: 0.5}
      };
    }
  };
}

// black outline round a grid, taken from the grid itself
function frame(panel) {
  return {
    type: 'custom',
    coordinateSystem: 'cartesian2d',
    xAxisIndex: panel,
    yAxisIndex: panel,
    silent: true,
    clip: false,
    z: 10,
    data: [[0, 0]],
    renderItem: function (params) {
      var box = params.coordSys;
      return {
        type: 'rect',
        shape: {x: box.x, y: box.y, width: box.width, height: box.height},
        style: {fill: 'none', stroke: '#000', lineWidth: 2}
      };
    }
  };
}

function mapSeries(panel, neither, mean, holes, varOnly, both) {
  return [
    layer(panel, oceanBox, ORANGE),
    layer(panel, neither, '#ffffff', 0.45),
    layer(panel, mean, ORANGE, 0.45),
    layer(panel, holes, '#ffffff', 0.45),
    layer(panel, greySeas, GREY, 0.2),
    layer(panel, [iceEdge], GREY),
    layer(panel, [afroEurasia, americas, westAfrica, iberiaFrance, australia, greenland].concat(islands), '#000000', 0.2),
    layer(panel, inlandMean, ORANGE, 0.25),
    layer(panel, inlandGrey, GREY, 0.25),
    layer(panel, medIslands, '#000000', 0.2),
    layer(panel, varOnly, BLUE, 0.3),
    layer(panel, both, RED, 0.3),
    frame(panel)
  ];
}

function barSeries(panel) {
  var colors = ['#ffffff', ORANGE, BLUE, RED];
  return classSteps.map(function (v, i) {
    return {
      type: 'bar',
      xAxisIndex: panel,
      yAxisIndex: panel,
      stack: 'classes' + panel,
      barWidth: '100%',
      silent: true,
      itemStyle: {color: colors[i]},
      data: [v]
    };
  }).concat([frame(panel)]);
}

function lonAxis(grid) {
  return {
    type: 'value', gridIndex: grid, min: 0, max: 360,
    splitLine: {show: false}, axisLine: {show: false}, axisTick: {show: false},
    axisLabel: {
      customValues: lonTicks, fontFamily: TEXT_FONT, fontSize: 44, color: '#000', margin: 15,
      formatter: function (v) { return lonLabels[lonTicks.indexOf(v)]; }
    }
  };
}
function latAxis(grid) {
  return {
    type: 'value', gridIndex: grid, min: -65, max: 70,
    splitLine: {show: false}, axisLine: {show: false}, axisTick: {show: false},
    axisLabel: {
      customValues: latTicks, fontFamily: TEXT_FONT, fontSize: 44, color: '#000', margin: 18,
      formatter: function (v) { return latLabels[latTicks.indexOf(v)]; }
    }
  };
}
function stepAxis(grid) {
  return {type: 'category', gridIndex: grid, data: ['classes'], show: false};
}
function classAxis(grid, shares) {
  // the two-line labels sit a little below their ticks
  var labelAt = classTicks.map(function (t) { return t - 0.055; });
  return {
    type: 'value', gridIndex: grid, min: 0, max: 4, position: 'right',
    splitLine: {show: false},
    axisLine: {show: false},
    axisTick: {show: true, customValues: classTicks, length: 9, lineStyle: {color: '#000', width: 2}},
    axisLabel: {
      customValues: labelAt, fontFamily: TEXT_FONT, fontSize: 37, lineHeight: 41, color: '#000', margin: 18,
      formatter: function (v) {
        var i = labelAt.indexOf(v);
        return classNames[i] + '\n(' + shares[i] + ')';
      }
    }
  };
}

var option = {
  animation: false,
  backgroundColor: '#fff',
  title: [
    {text: titleA, left: 902, top: 1, textAlign: 'center', textStyle: {fontFamily: TEXT_FONT, fontSize: 62, fontWeight: 'normal', color: '#000'}},
    {text: titleB, left: 902, top: 810, textAlign: 'center', textStyle: {fontFamily: TEXT_FONT, fontSize: 62, fontWeight: 'normal', color: '#000'}}
  ],
  grid: [
    {left: 130, top: 66, width: 1555, height: 584, outerBoundsMode: 'none'},
    {left: 1715, top: 66, width: 78, height: 584, outerBoundsMode: 'none'},
    {left: 130, top: 877, width: 1555, height: 585, outerBoundsMode: 'none'},
    {left: 1715, top: 877, width: 78, height: 585, outerBoundsMode: 'none'}
  ],
  xAxis: [lonAxis(0), stepAxis(1), lonAxis(2), stepAxis(3)],
  yAxis: [latAxis(0), classAxis(1, classShareA), latAxis(2), classAxis(3, classShareB)],
  series: [].concat(
    mapSeries(0, annualNeither, annualMean, [], annualVar, annualBoth),
    barSeries(1),
    mapSeries(2, intensityNeither, intensityMean, intensityHoles, intensityVar, intensityBoth),
    barSeries(3)
  )
};
chart.setOption(option);
</script>
</body>
</html>
